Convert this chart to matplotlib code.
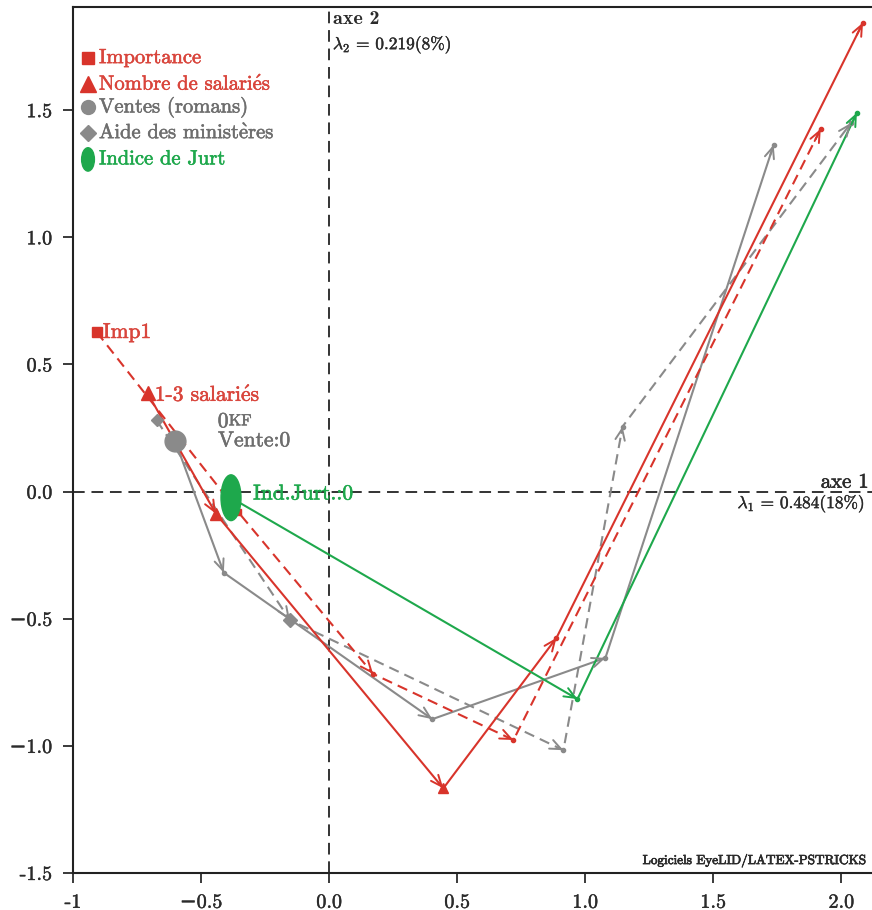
import matplotlib
matplotlib.use("Agg")
import matplotlib.pyplot as plt
import matplotlib.patheffects as pe
from matplotlib.patches import Ellipse

plt.rcParams['font.family'] = ['cmr10', 'DejaVu Serif']
plt.rcParams['mathtext.fontset'] = 'cm'
plt.rcParams['axes.formatter.use_mathtext'] = True

RED = '#d8342b'
RED_TXT = '#d9453c'
GREY = '#8a8a8a'
GREY_TXT = '#6e6e6e'
GREEN = '#1ea84c'
INK = '#2b2b2b'

# trajectoires des modalites (axe 1, axe 2)
imp_x = [-0.907, -0.356, 0.172, 0.720, 1.920]
imp_y = [0.627, -0.079, -0.717, -0.977, 1.427]

sal_x = [-0.708, -0.442, 0.446, 0.888, 2.085]
sal_y = [0.386, -0.087, -1.167, -0.575, 1.845]

ven_x = [-0.602, -0.411, 0.403, 1.079, 1.736]
ven_y = [0.201, -0.319, -0.895, -0.654, 1.364]

aide_x = [-0.673, -0.153, 0.915, 1.146, 2.038]
aide_y = [0.280, -0.505, -1.017, 0.256, 1.450]

jurt_x = [-0.383, 0.970, 2.061]
jurt_y = [-0.024, -0.816, 1.490]

xticks = [-1, -0.5, 0, 0.5, 1, 1.5, 2]
xlabels = ['-1', '\u22120.5', '0.0', '0.5', '1.0', '1.5', '2.0']
yticks = [-1.5, -1, -0.5, 0, 0.5, 1, 1.5]
ylabels = ['-1.5', '\u22121.0', '\u22120.5', '0.0', '0.5', '1.0', '1.5']

E_AIGU = r'$\acute{\mathrm{e}}$'
E_GRAVE = r'$\grave{\mathrm{e}}$'


def heavy(color, w=0.4):
    return [pe.withStroke(linewidth=w, foreground=color)]


fig = plt.figure(figsize=(8.72, 9.10), dpi=100)
ax = fig.add_axes([73 / 872, 1 - 873 / 910, 799 / 872, 866 / 910])
ax.set_xlim(-1, 2.12)
ax.set_ylim(-1.5, 1.906)

ax.axhline(0, color='#333333', lw=1.4, ls=(0, (6, 3.5)), zorder=1)
ax.axvline(0, color='#333333', lw=1.4, ls=(0, (6, 3.5)), zorder=1)


def trajectory(xs, ys, color, ls):
    ax.plot(xs, ys, color=color, lw=1.5, ls=ls, zorder=3)
    for i in range(1, len(xs)):
        dx = xs[i] - xs[i - 1]
        dy = ys[i] - ys[i - 1]
        ax.annotate('', xy=(xs[i], ys[i]),
                    xytext=(xs[i] - dx * 0.02, ys[i] - dy * 0.02),
                    arrowprops=dict(arrowstyle='->,head_length=0.4,head_width=0.17',
                                    color=color, lw=1.4, shrinkA=0, shrinkB=0,
                                    mutation_scale=20),
                    zorder=4)
    ax.plot(xs[1:], ys[1:], 'o', ms=3, color=color, zorder=4)


trajectory(aide_x, aide_y, GREY, (0, (5, 3)))
trajectory(ven_x, ven_y, GREY, '-')
trajectory(imp_x, imp_y, RED, (0, (5, 3)))
trajectory(sal_x, sal_y, RED, '-')
trajectory(jurt_x, jurt_y, GREEN, '-')

# marqueurs des modalites
ax.plot(imp_x[0], imp_y[0], 's', ms=6.5, color=RED, zorder=5)
ax.plot(imp_x[1], imp_y[1], 's', ms=5, color=RED, zorder=5)
ax.plot(sal_x[0], sal_y[0], '^', ms=10, color=RED, zorder=5)
ax.plot(sal_x[1], sal_y[1], '^', ms=8, color=RED, zorder=5)
ax.plot(sal_x[2], sal_y[2], '^', ms=7, color=RED, zorder=5)
ax.plot(ven_x[0], ven_y[0], 'o', ms=15, color=GREY, zorder=5)
ax.plot(aide_x[0], aide_y[0], 'D', ms=6.5, color=GREY, zorder=5)
ax.plot(aide_x[1], aide_y[1], 'D', ms=7, color=GREY, zorder=5)
ax.add_patch(Ellipse((jurt_x[0], jurt_y[0]), 0.078, 0.18, color=GREEN, zorder=5))

FS = 15.5
lab = dict(textcoords='offset pixels', va='center', ha='left', fontsize=FS)
ax.annotate('Imp1', (imp_x[0], imp_y[0]), xytext=(6, 0), color=RED_TXT,
            path_effects=heavy(RED_TXT), **lab)
ax.annotate('1-3 salari' + E_AIGU + 's', (sal_x[0], sal_y[0]), xytext=(7, -1),
            color=RED_TXT, path_effects=heavy(RED_TXT), **lab)
ax.annotate('0', (aide_x[0], aide_y[0]), xytext=(61, -1), color=GREY_TXT,
            path_effects=heavy(GREY_TXT), **lab)
ax.annotate('KF', (aide_x[0], aide_y[0]), xytext=(72, -1), color=GREY_TXT,
            textcoords='offset pixels', va='center', ha='left', fontsize=11.5,
            path_effects=heavy(GREY_TXT))
ax.annotate('Vente:0', (ven_x[0], ven_y[0]), xytext=(43, 0), color=GREY_TXT,
            path_effects=heavy(GREY_TXT), **lab)
ax.annotate('Ind.Jurt.:0', (jurt_x[0], jurt_y[0]), xytext=(22, 4), color=GREEN,
            path_effects=heavy(GREEN), **lab)

# axes factoriels
ax.text(0.015, 1.86, 'axe 2', fontsize=14.5, family=['cmb10', 'DejaVu Serif'],
        va='center', ha='left', color=INK)
ax.text(0.015, 1.758, r'$\lambda_2$ = 0.219(8%)', fontsize=12.5, va='center',
        ha='left', color=INK, path_effects=heavy(INK, 0.3))
ax.text(2.108, 0.035, 'axe 1', fontsize=15, va='center', ha='right', color=INK,
        path_effects=heavy(INK))
ax.text(2.093, -0.047, r'$\lambda_1$ = 0.484(18%)', fontsize=12.5, va='center',
        ha='right', color=INK, path_effects=heavy(INK, 0.3))
ax.text(2.094, -1.45, 'Logiciels EyeLID/LATEX-PSTRICKS', fontsize=9.5,
        va='center', ha='right', color=INK, path_effects=heavy(INK, 0.5))

# legende
legend = [('s', 8, RED, RED_TXT, 'Importance'),
          ('^', 11, RED, RED_TXT, 'Nombre de salari' + E_AIGU + 's'),
          ('o', 10, GREY, GREY_TXT, 'Ventes (romans)'),
          ('D', 8, GREY, GREY_TXT, 'Aide des minist' + E_GRAVE + 'res'),
          (None, 0, GREEN, GREEN, 'Indice de Jurt')]
ly = [0.941, 0.911, 0.884, 0.855, 0.824]
for (m, ms, c, tc, txt), yy in zip(legend, ly):
    if m:
        ax.plot(0.0188, yy, m, ms=ms, color=c, transform=ax.transAxes, clip_on=False)
    else:
        ax.add_patch(Ellipse((0.0188, yy), 0.016, 0.027, color=c, transform=ax.transAxes))
    ax.text(0.0325, yy, txt, color=tc, fontsize=14.8, va='center', ha='left',
            transform=ax.transAxes, path_effects=heavy(tc))

ax.set_xticks(xticks)
ax.set_xticklabels(xlabels)
ax.set_yticks(yticks)
ax.set_yticklabels(ylabels)
ax.tick_params(direction='out', length=7, width=1.3, labelsize=14.5, pad=8,
               colors=INK)
for lbl in ax.get_xticklabels() + ax.get_yticklabels():
    lbl.set_path_effects(heavy(INK, 0.3))
for s in ['left', 'bottom', 'top']:
    ax.spines[s].set_linewidth(1.5)
    ax.spines[s].set_color('#222222')
ax.spines['right'].set_visible(False)

fig.savefig('out.png', dpi=100)
